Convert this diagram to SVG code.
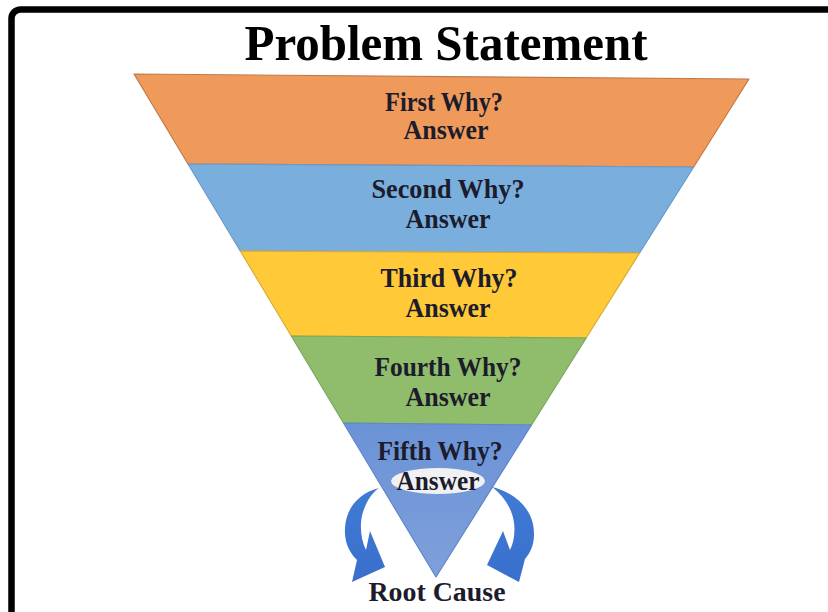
<svg xmlns="http://www.w3.org/2000/svg" width="828" height="612" viewBox="0 0 828 612">
  <style>
    .lbl { font-family: "Liberation Serif", "DejaVu Serif", serif; font-weight: bold; font-size: 27px; fill: #1c1c2c; text-anchor: middle; }
    .title { font-family: "Liberation Serif", "DejaVu Serif", serif; font-weight: bold; font-size: 50px; fill: #000; text-anchor: middle; }
    .band { stroke-width: 1.2; stroke-linejoin: round; }
    .arrow { fill: url(#arrowGrad); }
  </style>
  <defs>
    <linearGradient id="fifthGrad" x1="0" y1="0" x2="0" y2="1">
      <stop offset="0" stop-color="#6a93d6"/>
      <stop offset="1" stop-color="#7f9fdb"/>
    </linearGradient>
    <linearGradient id="arrowGrad" x1="0" y1="0" x2="0" y2="1">
      <stop offset="0" stop-color="#3f7bd6"/>
      <stop offset="1" stop-color="#3a6fcc"/>
    </linearGradient>
  </defs>
  <rect width="828" height="612" fill="#ffffff"/>
  <rect x="11.5" y="9.5" width="840" height="640" rx="9" fill="none" stroke="#000" stroke-width="6.5"/>

  <g id="title">
    <text class="title" x="446" y="60" textLength="403" lengthAdjust="spacingAndGlyphs">Problem Statement</text>
  </g>

  <g id="first-why">
    <polygon class="band" points="134,74 749,79 693.7,167 188,164" fill="#ef9a5b" stroke="#c07a4a"/>
    <text class="lbl" x="444" y="111" textLength="118" lengthAdjust="spacingAndGlyphs">First Why?</text>
    <text class="lbl" x="446" y="139" textLength="85" lengthAdjust="spacingAndGlyphs">Answer</text>
  </g>

  <g id="second-why">
    <polygon class="band" points="188,164 693.7,167 639.6,253 240.3,251" fill="#7aaedd" stroke="#6b9acb"/>
    <text class="lbl" x="448" y="198" textLength="153" lengthAdjust="spacingAndGlyphs">Second Why?</text>
    <text class="lbl" x="448" y="228" textLength="85" lengthAdjust="spacingAndGlyphs">Answer</text>
  </g>

  <g id="third-why">
    <polygon class="band" points="240.3,251 639.6,253 586.2,338 291.3,336" fill="#ffc937" stroke="#d9aa3a"/>
    <text class="lbl" x="449" y="287" textLength="137" lengthAdjust="spacingAndGlyphs">Third Why?</text>
    <text class="lbl" x="448" y="317" textLength="85" lengthAdjust="spacingAndGlyphs">Answer</text>
  </g>

  <g id="fourth-why">
    <polygon class="band" points="291.3,336 586.2,338 531.5,425 343.5,423" fill="#8fbd6b" stroke="#7aa85c"/>
    <text class="lbl" x="448" y="376" textLength="147" lengthAdjust="spacingAndGlyphs">Fourth Why?</text>
    <text class="lbl" x="448" y="406" textLength="85" lengthAdjust="spacingAndGlyphs">Answer</text>
  </g>

  <g id="fifth-why">
    <polygon class="band" points="343.5,423 531.5,425 436,577" fill="url(#fifthGrad)" stroke="#5f86c8"/>
    <text class="lbl" x="440" y="460" textLength="125" lengthAdjust="spacingAndGlyphs">Fifth Why?</text>
    <ellipse cx="438" cy="481" rx="47" ry="13" fill="#f1f1f3"/>
    <text class="lbl" x="438" y="490" textLength="83" lengthAdjust="spacingAndGlyphs">Answer</text>
  </g>

  <g id="connectors">
    <path class="arrow" d="M379,488 C359,493 346,508 345,528 C344,543 350,553 357,560 L352,582 L385,567 L370,531 L366,550 C361,540 359,525 363,512 C367,500 372,493 379,488 Z"/>
    <path class="arrow" d="M492,487 C513,492 529,506 533,524 C536,540 532,551 525,559 L519,582 L487,565 L503,531 L510,550 C515,540 516,526 512,514 C508,502 500,493 492,487 Z"/>
  </g>

  <g id="root-cause">
    <text class="lbl" x="437" y="601" textLength="137" lengthAdjust="spacingAndGlyphs">Root Cause</text>
  </g>
</svg>
